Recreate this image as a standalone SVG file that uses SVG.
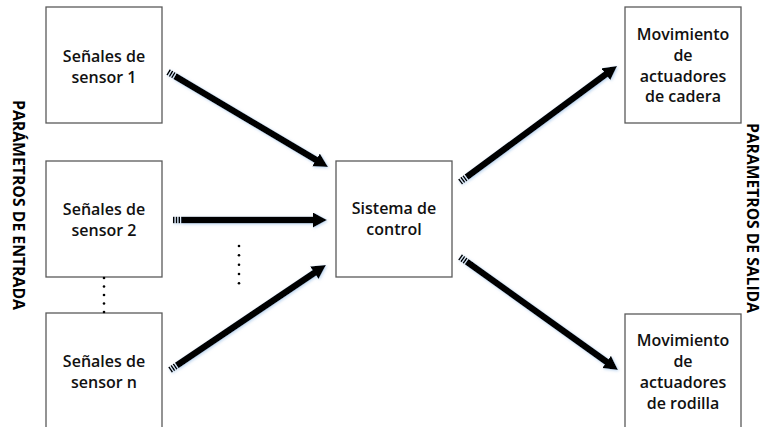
<svg xmlns="http://www.w3.org/2000/svg" width="764" height="427" viewBox="0 0 764 427">
<style>
.box{fill:#fff;stroke:#5a5a5a;stroke-width:1.3}
.lbl{font-family:"Open Sans","Liberation Sans",sans-serif;font-size:16px;font-weight:600;fill:#111;text-anchor:middle}
.side{font-family:"Open Sans","Liberation Sans",sans-serif;font-size:16.5px;font-weight:bold;fill:#000;text-anchor:middle;dominant-baseline:central}
.shaft{stroke:#000;stroke-width:6.5;fill:none;stroke-dasharray:1.6 1.1 1.6 1.1 1.6 1.1 2000;marker-end:url(#head)}
.dot{fill:#000}
</style>
<defs>
<marker id="head" markerUnits="userSpaceOnUse" markerWidth="16" markerHeight="16" refX="2" refY="7.5" orient="auto">
<path d="M0,0 L14,7.5 L0,15 z" fill="#000"/>
</marker>
<filter id="glow" x="-10%" y="-10%" width="120%" height="120%">
<feGaussianBlur in="SourceAlpha" stdDeviation="1.6" result="b"/>
<feOffset in="b" dx="0.8" dy="1" result="o"/>
<feFlood flood-color="#a9c8ea" flood-opacity="0.8"/>
<feComposite in2="o" operator="in" result="s"/>
<feMerge><feMergeNode in="s"/><feMergeNode in="SourceGraphic"/></feMerge>
</filter>
</defs>
<rect width="764" height="427" fill="#fff"/>

<g id="sensor1">
<rect class="box" x="46" y="7" width="116" height="116"/>
<text class="lbl" x="104" y="62">Señales de</text>
<text class="lbl" x="104" y="83">sensor 1</text>
</g>
<g id="sensor2">
<rect class="box" x="46" y="161" width="116" height="116"/>
<text class="lbl" x="104" y="215">Señales de</text>
<text class="lbl" x="104" y="236">sensor 2</text>
</g>
<g id="sensorn">
<rect class="box" x="46" y="313" width="116" height="116"/>
<text class="lbl" x="104" y="367">Señales de</text>
<text class="lbl" x="104" y="388">sensor n</text>
</g>
<g id="control">
<rect class="box" x="336" y="161" width="116" height="116"/>
<text class="lbl" x="394" y="214">Sistema de</text>
<text class="lbl" x="394" y="235">control</text>
</g>
<g id="cadera">
<rect class="box" x="625" y="7" width="116" height="116"/>
<text class="lbl" x="683" y="40">Movimiento</text>
<text class="lbl" x="683" y="61">de</text>
<text class="lbl" x="683" y="82">actuadores</text>
<text class="lbl" x="683" y="102">de cadera</text>
</g>
<g id="rodilla">
<rect class="box" x="625" y="314" width="116" height="116"/>
<text class="lbl" x="683" y="346">Movimiento</text>
<text class="lbl" x="683" y="367">de</text>
<text class="lbl" x="683" y="388">actuadores</text>
<text class="lbl" x="683" y="409">de rodilla</text>
</g>

<g id="entrada-label">
<text class="side" transform="translate(19,205) rotate(90)" textLength="210" lengthAdjust="spacingAndGlyphs">PARÁMETROS DE ENTRADA</text>
</g>
<g id="salida-label">
<text class="side" transform="translate(753,218) rotate(90)" textLength="190" lengthAdjust="spacingAndGlyphs">PARAMETROS DE SALIDA</text>
</g>

<g id="ellipses">
<circle class="dot" cx="104" cy="278" r="1.3"/>
<circle class="dot" cx="104" cy="286.5" r="1.3"/>
<circle class="dot" cx="104" cy="295" r="1.3"/>
<circle class="dot" cx="104" cy="303.5" r="1.3"/>
<circle class="dot" cx="104" cy="312" r="1.3"/>
<circle class="dot" cx="239" cy="246" r="1.3"/>
<circle class="dot" cx="239" cy="255.3" r="1.3"/>
<circle class="dot" cx="239" cy="264.7" r="1.3"/>
<circle class="dot" cx="239" cy="274" r="1.3"/>
<circle class="dot" cx="239" cy="283.3" r="1.3"/>
</g>

<g id="connectors" filter="url(#glow)">
<path class="shaft" d="M168,72 L317.7,160.9"/>
<path class="shaft" d="M173,220 L315,220"/>
<path class="shaft" d="M170,370 L316,271.7"/>
<path class="shaft" d="M460,182 L607.4,73.1"/>
<path class="shaft" d="M460,257 L608.2,363"/>
</g>
</svg>
